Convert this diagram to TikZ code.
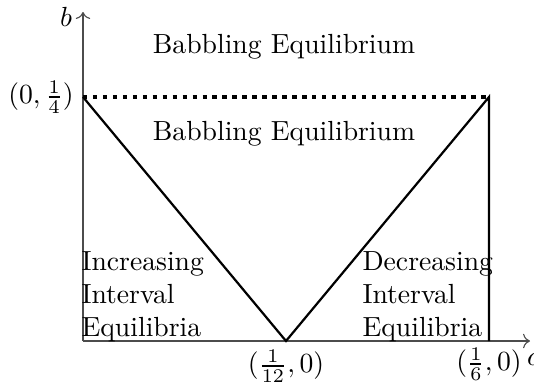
\documentclass[tikz,border=0pt]{standalone}
\usetikzlibrary{arrows.meta}
\begin{document}
\begin{tikzpicture}[x=0.3615pt,y=-0.3615pt,
  axis/.style={draw=black!70,line width=0.4pt,-{To[length=2.5pt]}},
  bound/.style={line width=0.8pt},
  lbl/.style={inner sep=0pt},
  region/.style={inner sep=0pt,align=left,anchor=north west}]
\useasboundingbox (0,0) rectangle (534,387);
\coordinate (O) at (83,341);
\coordinate (Ytop) at (83,12);
\coordinate (Xend) at (530,341);
\coordinate (A) at (83,97);
\coordinate (B) at (286,341);
\coordinate (C) at (489,97);
\coordinate (D) at (489,341);
\draw[axis] (O) -- (Ytop);
\draw[axis] (O) -- (Xend);
\draw[bound] (A) -- (B) -- (C) -- (D);
\draw[line width=1.6pt,dotted] (A) -- (C);
\node[lbl] (bl) at (66,17) {$b$};
\node[lbl] (cl) at (533,360) {$c$};
\node[lbl] (al) at (41,97) {$(0,\frac{1}{4})$};
\node[lbl] (bbl) at (286,366) {$(\frac{1}{12},0)$};
\node[lbl] (dl) at (489,364) {$(\frac{1}{6},0)$};
\node[lbl] (t1) at (284,47) {Babbling Equilibrium};
\node[lbl] (t2) at (284,134) {Babbling Equilibrium};
\node[region] (inc) at (81,251) {Increasing\\Interval\\Equilibria};
\node[region] (dec) at (362,251) {Decreasing\\Interval\\Equilibria};
\end{tikzpicture}
\end{document}
